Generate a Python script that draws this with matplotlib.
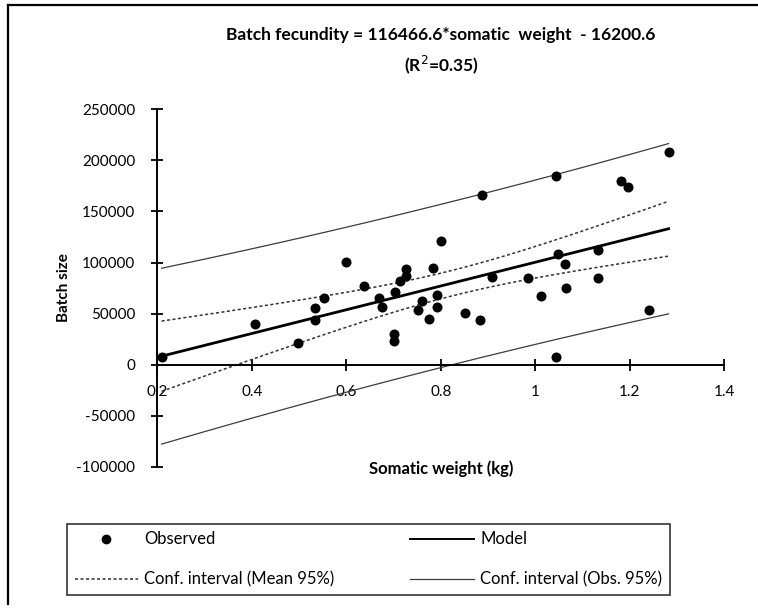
import matplotlib
matplotlib.use("Agg")
import matplotlib.pyplot as plt
import numpy as np
from matplotlib.lines import Line2D

plt.rcParams['font.family'] = ['Lato', 'DejaVu Sans']

# somatic weight (kg) and batch size of each female
somatic_weight = [0.209, 0.407, 0.497, 0.534, 0.534, 0.553, 0.599, 0.638, 0.669, 0.676,
                  0.700, 0.700, 0.704, 0.713, 0.727, 0.727, 0.752, 0.760, 0.776, 0.784,
                  0.791, 0.791, 0.801, 0.851, 0.883, 0.887, 0.908, 0.984, 1.012, 1.043,
                  1.044, 1.047, 1.063, 1.065, 1.133, 1.133, 1.181, 1.196, 1.241, 1.282]
batch_size = [7600, 39700, 21400, 43600, 55100, 65500, 100200, 77300, 65500, 56700,
              29500, 23500, 70800, 82200, 86600, 93200, 53400, 62500, 44600, 94800,
              68100, 56700, 121000, 50200, 43600, 166200, 85500, 84500, 67200, 185000,
              7000, 108500, 98200, 74700, 112000, 84500, 180200, 174300, 53400, 208600]

slope = 116466.6
intercept = -16200.6
r2 = 0.35
t_95 = 2.024  # Student t, 38 df

x = np.array(somatic_weight)
y = np.array(batch_size)
n = len(x)

# regression line and 95% bands
xs = np.linspace(x.min(), x.max(), 200)
model = slope * xs + intercept
resid = y - (slope * x + intercept)
s = np.sqrt(np.sum(resid ** 2) / (n - 2))
sxx = np.sum((x - x.mean()) ** 2)
se_mean = s * np.sqrt(1.0 / n + (xs - x.mean()) ** 2 / sxx)
se_obs = s * np.sqrt(1 + 1.0 / n + (xs - x.mean()) ** 2 / sxx)

W, H = 758, 613
fig = plt.figure(figsize=(W / 100, H / 100), dpi=100)
ax = fig.add_axes([157.3 / W, 1 - 466.5 / H, (724.3 - 157.3) / W, (466.5 - 109.5) / H])

ax.plot(xs, model, color='black', lw=2, zorder=3)
ax.plot(xs, model + t_95 * se_mean, color='#333333', lw=1.1, ls=(0, (2, 1.6)), zorder=2)
ax.plot(xs, model - t_95 * se_mean, color='#333333', lw=1.1, ls=(0, (2, 1.6)), zorder=2)
ax.plot(xs, model + t_95 * se_obs, color='#3c3c3c', lw=0.9, zorder=2)
ax.plot(xs, model - t_95 * se_obs, color='#3c3c3c', lw=0.9, zorder=2)
ax.scatter(x, y, s=52, color='black', zorder=4, linewidths=0)

ax.set_xlim(0.2, 1.4)
ax.set_ylim(-100000, 250000)
ax.set_xticks([0.2, 0.4, 0.6, 0.8, 1.0, 1.2, 1.4])
ax.set_xticklabels(['0.2', '0.4', '0.6', '0.8', '1', '1.2', '1.4'])
ax.set_yticks(np.arange(-100000, 250001, 50000))
ax.set_yticklabels([str(v) for v in np.arange(-100000, 250001, 50000)])

ax.spines['top'].set_visible(False)
ax.spines['right'].set_visible(False)
ax.spines['bottom'].set_position(('data', 0))
for sp in ['left', 'bottom']:
    ax.spines[sp].set_linewidth(1.4)
ax.tick_params(direction='inout', length=8, width=1.3, labelsize=11)
ax.tick_params(axis='x', pad=11)
ax.tick_params(axis='y', pad=12)

ax.set_xlabel('Somatic weight (kg)', fontsize=12, fontweight='bold')
ax.xaxis.set_label_coords(0.5, -0.005)
ax.xaxis.label.set_verticalalignment('center')
ax.set_ylabel('Batch size', fontsize=11, fontweight='bold')
ax.yaxis.set_label_coords(-0.152, 0.5)

fig.text(441 / W, 1 - 35 / H, 'Batch fecundity = 116466.6*somatic  weight  - 16200.6',
         ha='center', va='center', fontsize=12.5, fontweight='bold')
fig.text(441 / W, 1 - 65 / H, '(R$^{2}$=%.2f)' % r2,
         ha='center', va='center', fontsize=12.5, fontweight='bold')

handles = [
    Line2D([], [], ls='none', marker='o', color='black', markersize=6),
    Line2D([], [], color='#333333', lw=1.1, ls=(0, (2, 1.6))),
    Line2D([], [], color='black', lw=1.4),
    Line2D([], [], color='#3c3c3c', lw=0.9),
]
labels = ['Observed', 'Conf. interval (Mean 95%)', 'Model', 'Conf. interval (Obs. 95%)']
leg = fig.legend(handles, labels, ncol=2, loc='upper left', mode='expand',
                 bbox_to_anchor=(67 / W, 1 - 599 / H, (670 - 67) / W, (599 - 524) / H),
                 fontsize=12, handlelength=3.8, handletextpad=0.4, borderaxespad=0,
                 borderpad=0.45, fancybox=False, frameon=True, labelspacing=1.45)
leg.get_frame().set_edgecolor('black')
leg.get_frame().set_linewidth(1.2)

# outer frame
fig.add_artist(Line2D([7.5 / W, 7.5 / W], [0.015, 1 - 5 / H], transform=fig.transFigure,
                      color='black', lw=1.6))
fig.add_artist(Line2D([7.5 / W, 1.0], [1 - 5 / H, 1 - 5 / H], transform=fig.transFigure,
                      color='black', lw=1.6))

fig.savefig('out.png', dpi=100)
